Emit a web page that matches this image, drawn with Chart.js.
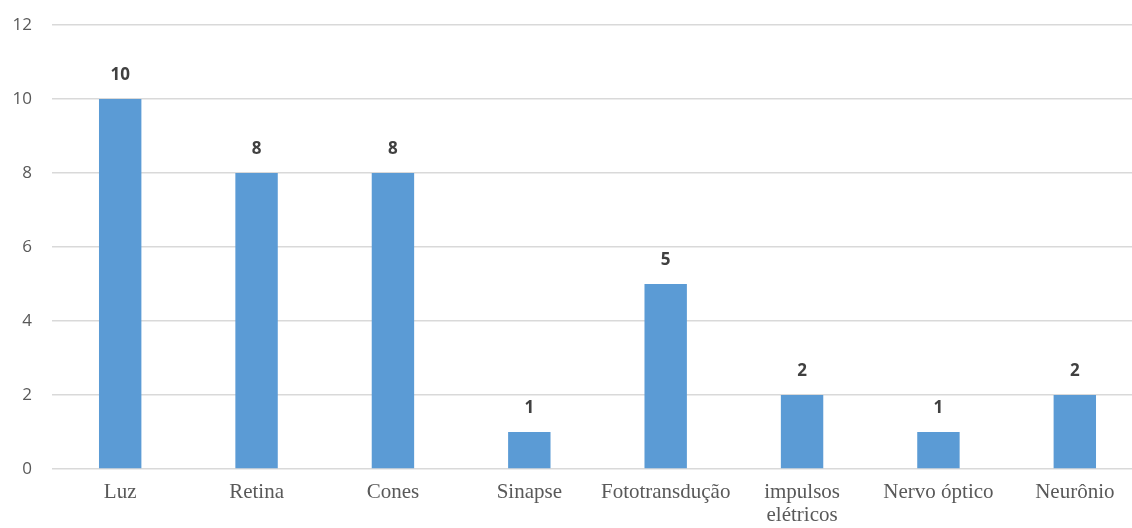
<!DOCTYPE html>
<html>
<head>
<meta charset="utf-8">
<script src="https://cdn.jsdelivr.net/npm/chart.js@4"></script>
<style>
  body { margin: 0; background: #fff; }
  #wrap { width: 1132px; height: 528px; overflow: hidden; }
  canvas { display: block; }
</style>
</head>
<body>
<div id="wrap"><canvas id="chart" width="1143" height="528"></canvas></div>
<script>
// Chart data
const categories = ["Luz", "Retina", "Cones", "Sinapse", "Fototransdução", ["impulsos", "elétricos"], "Nervo óptico", "Neurônio"];
const values = [10, 8, 8, 1, 5, 2, 1, 2];
const yTicks = [0, 2, 4, 6, 8, 10, 12];

// Value labels above each bar
const barLabels = {
  id: "barLabels",
  afterDatasetsDraw(chart) {
    const ctx = chart.ctx;
    const meta = chart.getDatasetMeta(0);
    ctx.save();
    ctx.font = "bold 17px 'Open Sans'";
    ctx.fillStyle = "#404040";
    ctx.textAlign = "center";
    ctx.textBaseline = "middle";
    meta.data.forEach((bar, i) => {
      ctx.fillText(values[i], bar.x, bar.y - 24);
    });
    ctx.restore();
  },
};

const ctx = document.getElementById("chart").getContext("2d");
new Chart(ctx, {
  type: "bar",
  data: {
    labels: categories,
    datasets: [
      {
        data: values,
        backgroundColor: "#5B9BD5",
        categoryPercentage: 1,
        barPercentage: 0.311,
      },
    ],
  },
  options: {
    responsive: false,
    animation: false,
    layout: { padding: { top: 25, right: 0, left: 0, bottom: 0 } },
    plugins: {
      legend: { display: false },
      tooltip: { enabled: false },
    },
    scales: {
      x: {
        grid: { display: false, drawTicks: false },
        border: { display: false },
        ticks: {
          padding: 12,
          color: "#595959",
          font: { family: "'Liberation Serif'", size: 21, lineHeight: 1.1 },
          maxRotation: 0,
          autoSkip: false,
        },
        afterFit(scale) { scale.height = 59; },
      },
      y: {
        min: 0,
        max: 12,
        afterBuildTicks(scale) { scale.ticks = yTicks.map(v => ({ value: v })); },
        grid: { color: "#d9d9d9", lineWidth: 1.5, drawTicks: false },
        border: { display: false },
        ticks: {
          padding: 20,
          color: "#595959",
          font: { family: "'Open Sans'", size: 17 },
        },
        afterFit(scale) {
          scale.width = 52;
          scale.paddingTop = 0;
          scale.paddingBottom = 0;
        },
      },
    },
  },
  plugins: [barLabels],
});
</script>
</body>
</html>
